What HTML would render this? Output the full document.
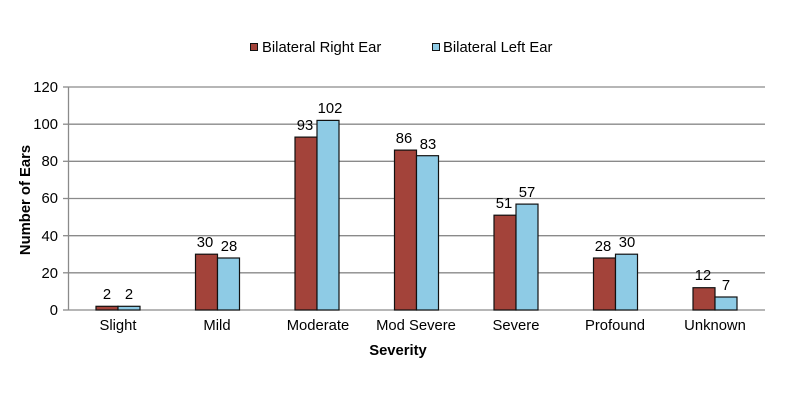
<!DOCTYPE html>
<html><head><meta charset="utf-8"><style>html,body{margin:0;padding:0;background:#fff}svg{display:block}text{font-family:"Liberation Sans",Arial,sans-serif;fill:#000}</style></head>
<body>
<svg width="800" height="400" viewBox="0 0 800 400">
<g stroke="#8a8a8a" stroke-width="1.3">
<line x1="68" y1="87" x2="765" y2="87"/>
<line x1="68" y1="124.2" x2="765" y2="124.2"/>
<line x1="68" y1="161.3" x2="765" y2="161.3"/>
<line x1="68" y1="198.5" x2="765" y2="198.5"/>
<line x1="68" y1="235.7" x2="765" y2="235.7"/>
<line x1="68" y1="272.8" x2="765" y2="272.8"/>
<line x1="68" y1="310" x2="765" y2="310"/>
<line x1="68.5" y1="87" x2="68.5" y2="310"/>
<line x1="63" y1="87" x2="68" y2="87"/><line x1="63" y1="124.2" x2="68" y2="124.2"/><line x1="63" y1="161.3" x2="68" y2="161.3"/><line x1="63" y1="198.5" x2="68" y2="198.5"/><line x1="63" y1="235.7" x2="68" y2="235.7"/><line x1="63" y1="272.8" x2="68" y2="272.8"/><line x1="63" y1="310" x2="68" y2="310"/>
</g>
<g font-size="14.8" text-anchor="end">
<text x="58" y="92">120</text><text x="58" y="129">100</text><text x="58" y="166">80</text><text x="58" y="203">60</text><text x="58" y="241">40</text><text x="58" y="278">20</text><text x="58" y="315">0</text>
</g>
<g stroke="#111" stroke-width="1.2">
<rect x="96" y="306.3" width="22" height="3.7" fill="#a3433a"/><rect x="118" y="306.3" width="22" height="3.7" fill="#8ecbe5"/>
<rect x="195.5" y="254.2" width="22" height="55.8" fill="#a3433a"/><rect x="217.5" y="258" width="22" height="52" fill="#8ecbe5"/>
<rect x="295" y="137.1" width="22" height="172.9" fill="#a3433a"/><rect x="317" y="120.4" width="22" height="189.6" fill="#8ecbe5"/>
<rect x="394.5" y="150.1" width="22" height="159.9" fill="#a3433a"/><rect x="416.5" y="155.7" width="22" height="154.3" fill="#8ecbe5"/>
<rect x="494" y="215.2" width="22" height="94.8" fill="#a3433a"/><rect x="516" y="204.1" width="22" height="105.9" fill="#8ecbe5"/>
<rect x="593.5" y="258" width="22" height="52" fill="#a3433a"/><rect x="615.5" y="254.2" width="22" height="55.8" fill="#8ecbe5"/>
<rect x="693" y="287.7" width="22" height="22.3" fill="#a3433a"/><rect x="715" y="297" width="22" height="13" fill="#8ecbe5"/>
</g>
<g font-size="14.8" text-anchor="middle">
<text x="107" y="299">2</text><text x="129" y="299">2</text>
<text x="205" y="247">30</text><text x="229" y="251">28</text>
<text x="305" y="130">93</text><text x="330" y="113">102</text>
<text x="404" y="143">86</text><text x="428" y="149">83</text>
<text x="504" y="208">51</text><text x="527" y="197">57</text>
<text x="603" y="251">28</text><text x="627" y="247">30</text>
<text x="703" y="280">12</text><text x="726" y="290">7</text>
</g>
<g font-size="14.8" text-anchor="middle">
<text x="118" y="330">Slight</text><text x="217" y="330">Mild</text><text x="318" y="330">Moderate</text><text x="416" y="330">Mod Severe</text><text x="516" y="330">Severe</text><text x="615" y="330">Profound</text><text x="715" y="330">Unknown</text>
</g>
<text x="398" y="355" font-size="14.8" font-weight="bold" text-anchor="middle">Severity</text>
<text transform="translate(30,200) rotate(-90)" font-size="14.8" font-weight="bold" text-anchor="middle">Number of Ears</text>
<rect x="250.5" y="43.5" width="7" height="7" fill="#a3433a" stroke="#111"/>
<text x="262" y="52" font-size="14.8">Bilateral Right Ear</text>
<rect x="432.5" y="43.5" width="7" height="7" fill="#8ecbe5" stroke="#111"/>
<text x="443" y="52" font-size="14.8">Bilateral Left Ear</text>
</svg>
</body></html>
